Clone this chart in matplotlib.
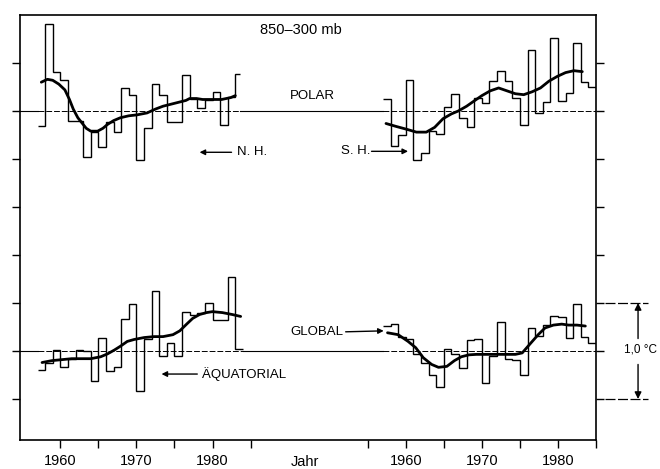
import numpy as np
import matplotlib
matplotlib.use('Agg')
import matplotlib.pyplot as plt
from matplotlib import transforms

# Annual temperature anomalies 850-300 mb (deg C)
nh_years = np.arange(1957, 1984)
nh_polar = [-0.16, 0.91, 0.41, 0.32, -0.10, -0.10, -0.48, -0.22, -0.37, -0.11,
            -0.22, 0.24, 0.17, -0.51, -0.18, 0.28, 0.17, -0.11, -0.11, 0.38,
            0.13, 0.03, 0.11, 0.20, -0.15, 0.15, 0.39]
nh_end = 1983.6

sh_years = np.arange(1957, 1985)
sh_polar = [0.12, -0.36, -0.25, 0.32, -0.51, -0.44, -0.21, -0.24, 0.04, 0.18,
            -0.07, -0.17, 0.14, 0.08, 0.31, 0.42, 0.31, 0.14, -0.15, 0.64,
            -0.02, 0.09, 0.76, 0.10, 0.19, 0.71, 0.30, 0.25]
sh_end = 1985

eq_years = np.arange(1957, 1984)
equatorial = [-0.20, -0.12, 0.01, -0.17, -0.08, 0.01, 0.00, -0.31, 0.14, -0.21,
              -0.17, 0.33, 0.49, -0.42, 0.13, 0.63, -0.05, 0.08, -0.05, 0.41,
              0.38, 0.40, 0.50, 0.32, 0.32, 0.77, 0.02]
eq_end = 1984

gl_years = np.arange(1957, 1985)
global_t = [0.26, 0.28, 0.15, 0.12, -0.03, -0.13, -0.25, -0.38, 0.02, -0.03,
            -0.18, 0.11, 0.12, -0.33, -0.05, 0.30, -0.08, -0.09, -0.25, 0.24,
            0.16, 0.27, 0.36, 0.35, 0.14, 0.49, 0.15, 0.08]
gl_end = 1985

# smoothed curves
nh_sm_x = [1957.5, 1958.3, 1959.0, 1959.8, 1960.6, 1961.2, 1961.7, 1962.3, 1962.8,
           1963.4, 1964.0, 1964.9, 1965.6, 1966.2, 1967.0, 1967.9, 1969.0, 1970.1,
           1971.4, 1972.5, 1973.5, 1974.5, 1975.5, 1976.5, 1977.0, 1977.9, 1978.7,
           1979.6, 1980.5, 1981.2, 1981.8, 1982.4, 1983.0]
nh_sm_y = [0.30, 0.33, 0.32, 0.28, 0.22, 0.12, 0.02, -0.07, -0.12, -0.18, -0.21,
           -0.21, -0.18, -0.14, -0.10, -0.07, -0.05, -0.04, -0.02, 0.02, 0.05,
           0.07, 0.09, 0.11, 0.13, 0.13, 0.12, 0.12, 0.12, 0.12, 0.13, 0.14, 0.16]

sh_sm_x = [1957.4, 1958.7, 1960.1, 1961.4, 1962.7, 1963.8, 1964.9, 1966.0, 1966.9,
           1968.0, 1968.9, 1970.0, 1971.1, 1972.2, 1973.3, 1974.4, 1975.5, 1976.6,
           1977.7, 1978.8, 1979.9, 1981.0, 1982.1, 1983.2]
sh_sm_y = [-0.13, -0.16, -0.19, -0.22, -0.22, -0.17, -0.08, -0.03, 0.00, 0.05, 0.10,
           0.16, 0.21, 0.24, 0.21, 0.18, 0.17, 0.20, 0.24, 0.31, 0.36, 0.40, 0.42, 0.41]

eq_sm_x = [1957.6, 1958.9, 1960.2, 1961.5, 1962.7, 1964.0, 1965.3, 1966.2, 1967.1,
           1967.9, 1968.8, 1969.7, 1971.0, 1972.3, 1973.5, 1974.8, 1975.7, 1976.6,
           1977.4, 1978.3, 1979.2, 1980.0, 1981.3, 1982.6, 1983.7]
eq_sm_y = [-0.12, -0.10, -0.09, -0.08, -0.08, -0.08, -0.06, -0.03, 0.01, 0.05, 0.10,
           0.12, 0.14, 0.15, 0.15, 0.17, 0.21, 0.28, 0.34, 0.38, 0.40, 0.41, 0.40,
           0.38, 0.36]

gl_sm_x = [1957.6, 1959.0, 1960.3, 1961.3, 1962.3, 1963.4, 1964.3, 1965.4, 1966.4,
           1967.3, 1968.3, 1969.3, 1970.3, 1971.3, 1972.3, 1973.3, 1974.4, 1975.3,
           1976.4, 1977.4, 1978.3, 1979.4, 1980.5, 1981.4, 1982.5, 1983.6]
gl_sm_y = [0.19, 0.17, 0.10, 0.035, -0.07, -0.14, -0.17, -0.16, -0.10, -0.06, -0.04,
           -0.035, -0.035, -0.035, -0.035, -0.035, -0.035, -0.02, 0.08, 0.17, 0.24,
           0.27, 0.28, 0.27, 0.27, 0.26]

label_years = [1960, 1970, 1980]
minor_left = [1965, 1975, 1985]
minor_right = [1955, 1965, 1975, 1985]

POLAR = 2.5      # vertical offset of the polar curves
GAP = 45.4       # where the right-hand time axis starts
XMIN, XMAX = -0.3, 75.4


def left(yr):
    return np.asarray(yr, float) - 1955


def right(yr):
    return np.asarray(yr, float) - 1955 + GAP


plt.rcParams['font.family'] = ['Liberation Sans', 'DejaVu Sans']

fig = plt.figure(figsize=(6.6, 4.69), dpi=100)
ax = fig.add_axes([20 / 660, 29 / 469, 576 / 660, 425 / 469])
ax.set_xlim(XMIN, XMAX)
ax.set_ylim(-0.927, 3.5)


# zero lines: solid outside the records, dashed along them
def zero_line(level, spans):
    pts = [XMIN] + [p for s in spans for p in s] + [XMAX]
    for a, b in zip(pts[0::2], pts[1::2]):
        ax.plot([a, b], [level, level], color='k', lw=0.8)
    for a, b in spans:
        ax.plot([a, b], [level, level], color='k', lw=0.7, dashes=(6, 2))


zero_line(POLAR, [(left(1957), left(nh_end)), (right(1957), right(sh_end))])
zero_line(0, [(left(1957), left(eq_end)), (right(1957), right(gl_end))])

# annual steps
ax.stairs(np.array(nh_polar) + POLAR, left(np.append(nh_years, nh_end)),
          baseline=None, color='k', lw=1.0)
ax.stairs(np.array(sh_polar) + POLAR, right(np.append(sh_years, sh_end)),
          baseline=None, color='k', lw=1.0)
ax.stairs(np.array(equatorial), left(np.append(eq_years, eq_end)),
          baseline=None, color='k', lw=1.0)
ax.stairs(np.array(global_t), right(np.append(gl_years, gl_end)),
          baseline=None, color='k', lw=1.0)

# smoothed curves
kw = dict(color='k', lw=2.0, solid_joinstyle='round', solid_capstyle='round')
ax.plot(left(nh_sm_x), np.array(nh_sm_y) + POLAR, **kw)
ax.plot(right(sh_sm_x), np.array(sh_sm_y) + POLAR, **kw)
ax.plot(left(eq_sm_x), eq_sm_y, **kw)
ax.plot(right(gl_sm_x), gl_sm_y, **kw)

# axes and ticks
major = np.concatenate([left(label_years), right(label_years)])
ax.set_xticks(major)
ax.set_xticklabels([str(y) for y in label_years] * 2)
ax.set_xticks(np.concatenate([left(minor_left), right(minor_right)]), minor=True)
ax.set_yticks(np.arange(-0.5, 3.01, 0.5))
ax.set_yticklabels([])
ax.tick_params(axis='x', which='both', direction='out', length=6, width=1.0,
               labelsize=10.5, pad=4)
ax.tick_params(axis='y', left=True, right=True, direction='out', length=6,
               width=1.0)
for sp in ax.spines.values():
    sp.set_linewidth(1.2)

# labels
tsize = 9.5
ax.text(36.6, 3.34, '850–300 mb', ha='center', va='center', fontsize=10.5)
ax.text(38.1, 2.66, 'POLAR', ha='center', va='center', fontsize=tsize)
ax.text(28.2, 2.07, 'N. H.', ha='left', va='center', fontsize=tsize)
ax.annotate('', xy=(23.3, 2.07), xytext=(27.5, 2.07),
            arrowprops=dict(arrowstyle='-|>', color='k', lw=1.0, mutation_scale=8,
                            shrinkA=0, shrinkB=0))
ax.text(45.7, 2.08, 'S. H.', ha='right', va='center', fontsize=tsize)
ax.annotate('', xy=(50.7, 2.08), xytext=(45.9, 2.08),
            arrowprops=dict(arrowstyle='-|>', color='k', lw=1.0, mutation_scale=8,
                            shrinkA=0, shrinkB=0))
ax.text(23.6, -0.24, 'ÄQUATORIAL', ha='left', va='center', fontsize=tsize)
ax.annotate('', xy=(18.3, -0.24), xytext=(23.0, -0.24),
            arrowprops=dict(arrowstyle='-|>', color='k', lw=1.0, mutation_scale=8,
                            shrinkA=0, shrinkB=0))
ax.text(42.2, 0.2, 'GLOBAL', ha='right', va='center', fontsize=tsize)
ax.annotate('', xy=(47.5, 0.21), xytext=(42.5, 0.2),
            arrowprops=dict(arrowstyle='-|>', color='k', lw=1.0, mutation_scale=8,
                            shrinkA=0, shrinkB=0))
ax.text(37.2, -0.052, 'Jahr', transform=ax.get_xaxis_transform(), ha='center',
        va='center', fontsize=10.5)

# 1,0 degC scale bar right of the frame
bt = transforms.blended_transform_factory(ax.transAxes, ax.transData)
for lev in (0.5, -0.5):
    ax.plot([1.016, 1.09], [lev, lev], transform=bt, color='k', lw=0.9,
            dashes=(8, 2), clip_on=False)
ax.annotate('', xy=(1.073, 0.5), xytext=(1.073, 0.13), xycoords=bt, textcoords=bt,
            arrowprops=dict(arrowstyle='-|>', color='k', lw=1.0, mutation_scale=10,
                            shrinkA=0, shrinkB=0))
ax.annotate('', xy=(1.073, -0.5), xytext=(1.073, -0.14), xycoords=bt, textcoords=bt,
            arrowprops=dict(arrowstyle='-|>', color='k', lw=1.0, mutation_scale=10,
                            shrinkA=0, shrinkB=0))
ax.text(1.077, 0.02, '1,0 °C', transform=bt, ha='center', va='center',
        fontsize=8.5)

fig.savefig('out.png', dpi=100)
